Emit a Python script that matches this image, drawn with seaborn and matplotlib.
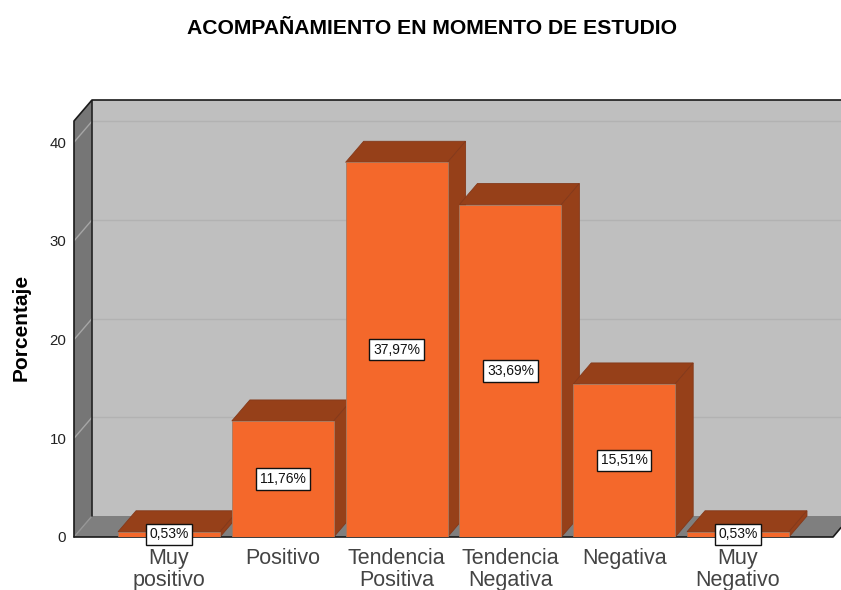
import matplotlib
matplotlib.use('Agg')
import matplotlib.pyplot as plt
from matplotlib.patches import Polygon
import pandas as pd
import seaborn as sns

categories = ['Muy\npositivo', 'Positivo', 'Tendencia\nPositiva', 'Tendencia\nNegativa', 'Negativa', 'Muy\nNegativo']
values = [0.53, 11.76, 37.97, 33.69, 15.51, 0.53]
labels = ['0,53%', '11,76%', '37,97%', '33,69%', '15,51%', '0,53%']
y_ticks = [0, 10, 20, 30, 40]

sns.set_theme(style='white')
plt.rcParams['font.family'] = ['Liberation Sans', 'DejaVu Sans']

W, H = 841, 590
fig = plt.figure(figsize=(W / 100, H / 100), dpi=100, facecolor='white')
# axes box in pixels: left 74, right 841, bottom 537, top 100
ax = fig.add_axes([74 / W, 1 - 537 / H, (841 - 74) / W, (537 - 100) / H])

data = pd.DataFrame({'cat': categories, 'pct': values})
sns.barplot(data=data, x='cat', y='pct', color='#f4682b', saturation=1, width=0.896, ax=ax)
bars = list(ax.patches)

x0, x1 = -0.835, 5.905
top = 44.28
ax.set_xlim(x0, x1)
ax.set_ylim(0, top)
dx = 18 / 113.8   # depth of the fake 3d
dy = 21 / 9.87
right = 5.835

sns.despine(ax=ax, left=True, bottom=True, top=True, right=True)
ax.patch.set_visible(False)
ax.set_xlabel('')
ax.set_ylabel('')

# walls and floor
ax.add_patch(Polygon([(x0 + dx, dy), (x1 + 1, dy), (x1 + 1, top), (x0 + dx, top)], fc='#bfbfbf', ec='none', zorder=0.5))
ax.add_patch(Polygon([(x0, 0), (x0 + dx, dy), (x0 + dx, top), (x0, top - dy)], fc='#767676', ec='none', zorder=0.6))
ax.add_patch(Polygon([(x0, 0), (right, 0), (right + dx, dy), (x0 + dx, dy)], fc='#7f7f7f', ec='none', zorder=0.6, clip_on=False))

# gridlines on the back wall and the side wall
for t in y_ticks[1:]:
    ax.plot([x0 + dx, x1 + 1], [t + dy, t + dy], color='#b2b2b2', lw=1, zorder=0.7)
    ax.plot([x0, x0 + dx], [t, t + dy], color='#a6a6a6', lw=1, zorder=0.7)
ax.plot([x0, x0 + dx], [0, dy], color='#969696', lw=1, zorder=0.7)

# frame lines
frame = dict(color='#1a1a1a', lw=1.2, zorder=1, clip_on=False, solid_capstyle='round')
ax.plot([x0, x0, x0 + dx, x1], [0, top - dy, top, top], **frame)
ax.plot([x0 + dx, x0 + dx], [top, dy], color='#222222', lw=1.2, zorder=0.9)
ax.plot([x0, right, right + 0.07], [0, 0, dy * 0.45], **frame)

# bars, left to right so each one covers the side of the one before
shade = '#964019'
line = '#84391a'
for i, bar in enumerate(bars):
    z = 3 + i
    l, w, h = bar.get_x(), bar.get_width(), bar.get_height()
    r = l + w
    bar.set_zorder(z + 0.2)
    bar.set_edgecolor('#a87a60')
    bar.set_linewidth(0.6)
    ax.add_patch(Polygon([(l, h), (r, h), (r + dx, h + dy), (l + dx, h + dy)], fc=shade, ec=line, lw=0.6, zorder=z))
    ax.add_patch(Polygon([(r, 0), (r + dx, dy), (r + dx, h + dy), (r, h)], fc=shade, ec=line, lw=0.6, zorder=z))
    ax.text(l + w / 2, h / 2, labels[i], ha='center', va='center', fontsize=10, color='#111111', zorder=50,
            clip_on=False, bbox=dict(boxstyle='square,pad=0.27', fc='white', ec='#111111', lw=1))

ax.set_yticks(y_ticks)
ax.tick_params(axis='y', length=0, pad=5.5, labelsize=10.8, labelcolor='#222222')
ax.tick_params(axis='x', length=0, pad=8, labelsize=15.5, labelcolor='#444444')
for t in ax.get_xticklabels():
    t.set_linespacing(1.06)

fig.text(21 / W, 1 - 327 / H, 'Porcentaje', rotation=90, ha='center', va='center', fontsize=15, fontweight='bold', color='black')
fig.text(432 / W, 1 - 29 / H, 'ACOMPAÑAMIENTO EN MOMENTO DE ESTUDIO', ha='center', va='center', fontsize=15.2, fontweight='bold', color='black')

fig.savefig('out.png', dpi=100)
